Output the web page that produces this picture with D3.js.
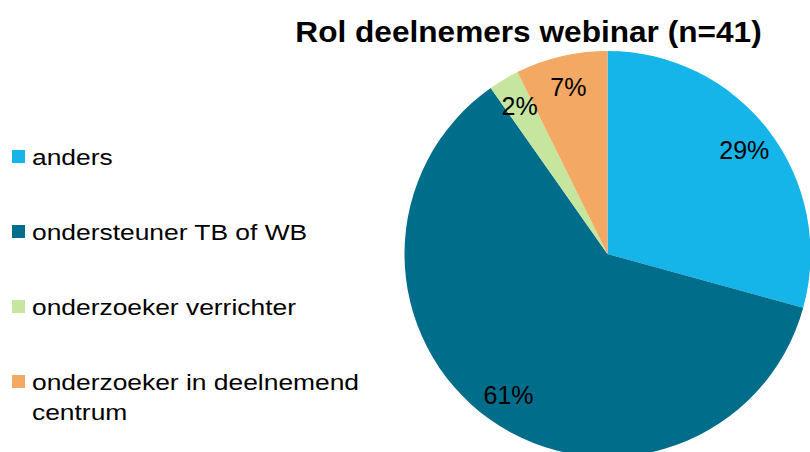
<!DOCTYPE html>
<html>
<head>
<meta charset="utf-8">
<script src="https://cdn.jsdelivr.net/npm/d3@7"></script>
<style>
  html, body { margin: 0; padding: 0; background: #ffffff; }
  svg { display: block; }
  text { font-family: "Liberation Sans", Arial, sans-serif; fill: #000; }
</style>
</head>
<body>
<svg id="chart" width="810" height="452"></svg>
<script>
const title = "Rol deelnemers webinar (n=41)";
const categories = ["anders", "ondersteuner TB of WB", "onderzoeker verrichter", "onderzoeker in deelnemend centrum"];
const legendLines = [["anders"], ["ondersteuner TB of WB"], ["onderzoeker verrichter"], ["onderzoeker in deelnemend", "centrum"]];
const counts = [12, 25, 1, 3];
const percentLabels = ["29%", "61%", "2%", "7%"];
const colors = ["#15b4e9", "#006d8b", "#c6e6a0", "#f3a863"];

const svg = d3.select("#chart");
const W = 810, H = 452;
const cx = 607.5, cy = 254, R = 203, labelR = 172;

svg.append("rect").attr("width", W).attr("height", H).attr("fill", "#fff");

const pie = d3.pie().sort(null).value(d => d)(counts);
const arc = d3.arc().innerRadius(0).outerRadius(R);
const labelArc = d3.arc().innerRadius(labelR).outerRadius(labelR);

const g = svg.append("g").attr("transform", `translate(${cx},${cy})`);
g.selectAll("path.slice").data(pie).join("path")
  .attr("class", "slice")
  .attr("d", arc)
  .attr("fill", (d, i) => colors[i]);

g.selectAll("text.lbl").data(pie).join("text")
  .attr("class", "lbl")
  .attr("transform", d => `translate(${labelArc.centroid(d)})`)
  .attr("text-anchor", "middle")
  .attr("dy", "0.36em")
  .style("font-size", "25px")
  .text((d, i) => percentLabels[i]);

svg.append("text")
  .attr("transform", "translate(528.5,42) scale(1.09,1)")
  .attr("text-anchor", "middle")
  .style("font-size", "29px")
  .style("font-weight", "bold")
  .text(title);

const legendY = d3.scalePoint().domain(categories).range([165, 390]);
const lg = svg.append("g");
const items = lg.selectAll("g.item").data(categories).join("g")
  .attr("class", "item")
  .attr("transform", d => `translate(0,${legendY(d)})`);
items.append("rect")
  .attr("x", 12).attr("y", -15).attr("width", 13).attr("height", 13)
  .attr("fill", (d, i) => colors[i]);
items.append("text")
  .attr("transform", "translate(32,0) scale(1.2,1)")
  .style("font-size", "22px")
  .each(function(d, i) {
    const t = d3.select(this);
    legendLines[i].forEach((line, j) => {
      t.append("tspan").attr("x", 0).attr("y", j * 30).text(line);
    });
  });
</script>
</body>
</html>
